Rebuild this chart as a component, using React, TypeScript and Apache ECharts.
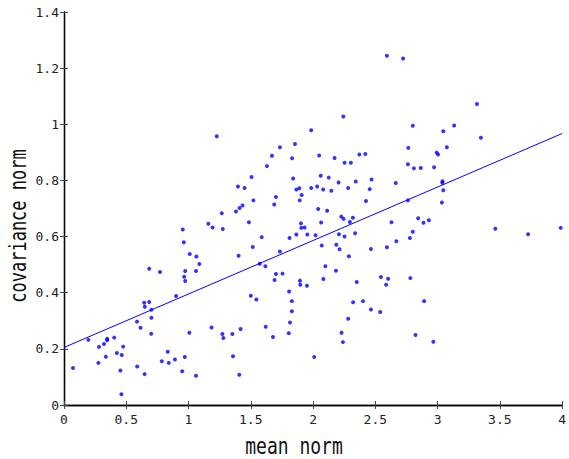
import React, { useEffect, useRef } from "react";
import * as echarts from "echarts";

const meanNorm = [
  2.243, 1.227, 1.985, 1.734, 1.855, 1.670, 1.832, 2.049, 2.173, 2.372, 2.420,
  2.593, 2.723, 3.316, 2.801, 3.133, 3.046, 3.348, 2.765, 3.075, 2.993, 3.004,
  1.630, 2.253, 2.304, 1.506, 1.840, 2.062, 2.126, 2.205, 2.343, 2.470,
  1.397, 1.450, 1.866, 1.890, 1.985, 2.033, 2.081, 2.147, 2.282, 2.455,
  1.909, 1.702, 1.521, 1.893, 2.425, 1.434, 1.688, 1.410, 1.381, 1.267,
  2.041, 2.113, 2.227, 2.245, 2.320, 2.296, 1.485, 2.065, 1.159, 1.193,
  1.903, 1.906, 1.932, 1.275, 0.954, 1.866, 1.954, 2.020, 2.208, 2.338,
  2.253, 1.588, 1.811, 0.962, 2.187, 2.070, 1.516, 2.213, 2.465, 1.734,
  1.010, 1.063, 1.402, 2.288, 1.087, 1.572, 1.617, 2.099, 0.973, 1.060,
  2.184, 1.702, 1.755, 0.965, 0.973, 1.691, 2.083, 1.895, 2.351, 1.898,
  1.951, 1.500, 1.545, 1.808, 1.830, 2.322, 2.401,
  2.762, 2.810, 2.865, 2.972, 2.664, 3.040, 3.038, 3.046, 2.762, 3.035,
  2.630, 2.844, 2.887, 2.930, 2.801, 3.464, 3.727, 3.989, 2.778, 2.669,
  2.593, 2.545, 2.603, 2.781, 2.587, 2.892, 2.465,
  2.539, 2.823, 2.966,
  1.830, 1.815, 2.282, 2.229, 2.240, 1.007, 1.185, 1.272, 1.280, 1.352,
  1.418, 1.620, 1.678, 1.805, 0.970, 0.949, 1.060, 1.357, 1.408, 2.009,
  0.196, 0.281, 0.321, 0.347, 0.347, 0.403, 0.475, 0.424, 0.464, 0.336,
  0.276, 0.072, 0.453, 0.588, 0.647, 0.461, 0.586, 0.615, 0.700, 0.702,
  0.702, 0.644, 0.649, 0.684, 0.833, 0.841, 0.785, 0.891,
  0.684, 0.771, 0.900,
];

const covNorm = [
  1.028, 0.957, 0.979, 0.918, 0.930, 0.888, 0.879, 0.889, 0.880, 0.892, 0.894,
  1.244, 1.234, 1.072, 0.995, 0.996, 0.975, 0.952, 0.916, 0.918, 0.899, 0.892,
  0.851, 0.863, 0.863, 0.812, 0.807, 0.817, 0.810, 0.793, 0.796, 0.803,
  0.778, 0.773, 0.768, 0.772, 0.773, 0.778, 0.768, 0.763, 0.773, 0.769,
  0.748, 0.741, 0.729, 0.729, 0.727, 0.711, 0.714, 0.702, 0.689, 0.683,
  0.698, 0.692, 0.671, 0.663, 0.667, 0.652, 0.651, 0.650, 0.646, 0.632,
  0.647, 0.631, 0.632, 0.627, 0.625, 0.607, 0.607, 0.605, 0.608, 0.612,
  0.600, 0.598, 0.595, 0.580, 0.571, 0.568, 0.563, 0.555, 0.556, 0.547,
  0.538, 0.529, 0.532, 0.530, 0.502, 0.503, 0.494, 0.494, 0.477, 0.477,
  0.478, 0.467, 0.468, 0.457, 0.442, 0.445, 0.449, 0.443, 0.438, 0.428,
  0.425, 0.389, 0.376, 0.404, 0.370, 0.366, 0.370,
  0.858, 0.843, 0.844, 0.847, 0.791, 0.797, 0.792, 0.765, 0.729, 0.721,
  0.651, 0.665, 0.649, 0.658, 0.617, 0.628, 0.608, 0.631, 0.595, 0.583,
  0.562, 0.456, 0.450, 0.452, 0.428, 0.370, 0.340,
  0.331, 0.249, 0.225,
  0.334, 0.294, 0.307, 0.257, 0.224, 0.257, 0.276, 0.253, 0.239, 0.253,
  0.271, 0.279, 0.242, 0.256, 0.171, 0.120, 0.104, 0.174, 0.108, 0.171,
  0.232, 0.207, 0.217, 0.236, 0.231, 0.240, 0.208, 0.185, 0.178, 0.172,
  0.150, 0.132, 0.123, 0.137, 0.110, 0.038, 0.297, 0.275, 0.254, 0.311,
  0.339, 0.364, 0.350, 0.367, 0.190, 0.150, 0.156, 0.162,
  0.485, 0.474, 0.388,
];

const fitX = [0, 4];
const fitY = [0.205, 0.967];

const xName = "mean norm";
const yName = "covariance norm";

const MONO = "'DejaVu Sans Mono', monospace";

export default function App() {
  const ref = useRef<HTMLDivElement>(null);
  useEffect(() => {
    if (!ref.current) return;
    const chart = echarts.init(ref.current, undefined, { renderer: "svg" });
    const points = meanNorm.map((x, i) => [x, covNorm[i]]);
    const fit = fitX.map((x, i) => [x, fitY[i]]);
    const axisLine = { show: true, lineStyle: { color: "#000", width: 1.3 } };
    const axisTick = { show: true, inside: true, length: 4, lineStyle: { color: "#444", width: 1 } };
    const label = { color: "#222", fontFamily: MONO, fontSize: 13 };
    chart.setOption({
      animation: false,
      backgroundColor: "#fff",
      grid: { left: 64, right: 2, top: 12, bottom: 54, containLabel: false },
      xAxis: [
        {
          type: "value", min: 0, max: 4, interval: 0.5, position: "bottom",
          axisLine, axisTick, splitLine: { show: false },
          axisLabel: { ...label, margin: 8 },
        },
        {
          type: "value", min: 0, max: 4, interval: 0.5, position: "top",
          axisLine, axisTick, splitLine: { show: false }, axisLabel: { show: false },
        },
      ],
      yAxis: [
        {
          type: "value", min: 0, max: 1.4, interval: 0.2, position: "left",
          axisLine, axisTick, splitLine: { show: false },
          axisLabel: { ...label, margin: 5 },
        },
        {
          type: "value", min: 0, max: 1.4, interval: 0.2, position: "right",
          axisLine, axisTick, splitLine: { show: false }, axisLabel: { show: false },
        },
      ],
      graphic: [
        {
          type: "text", x: 294, y: 446, scaleY: 1.3,
          style: {
            text: xName, fill: "#111", font: `18px ${MONO}`,
            align: "center", verticalAlign: "middle",
          },
        },
        {
          type: "text", x: 18, y: 226, rotation: Math.PI / 2, scaleY: 1.35,
          style: {
            text: yName, fill: "#111", font: `17px ${MONO}`,
            align: "center", verticalAlign: "middle",
          },
        },
      ],
      series: [
        {
          type: "scatter", data: points, symbol: "circle", symbolSize: 4,
          itemStyle: { color: "#0000ff" }, z: 3,
        },
        {
          type: "line", data: fit, showSymbol: false, symbol: "none",
          lineStyle: { color: "#0000ff", width: 1 }, z: 2,
        },
      ],
    });
    return () => chart.dispose();
  }, []);
  return (
    <div
      ref={ref}
      style={{ position: "absolute", left: 0, top: 0, width: 569, height: 459, overflow: "hidden" }}
    />
  );
}
